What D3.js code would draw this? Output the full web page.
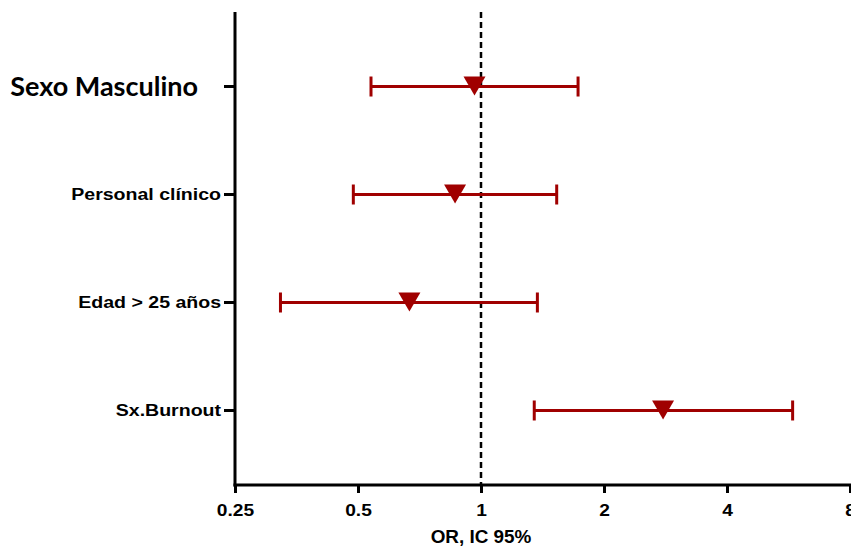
<!DOCTYPE html>
<html>
<head>
<meta charset="utf-8">
<script src="https://cdn.jsdelivr.net/npm/d3@7"></script>
<style>
	body { margin: 0; background: #fff; }
	.lbl { font-family: "Liberation Sans", Arial, sans-serif; font-weight: bold; }
</style>
</head>
<body>
<div id="chart"></div>
<script>
var factors = ["Sexo Masculino", "Personal clínico", "Edad > 25 años", "Sx.Burnout"],
	orValues = [0.964, 0.864, 0.668, 2.79],
	ciLow = [0.538, 0.487, 0.323, 1.35],
	ciHigh = [1.728, 1.532, 1.374, 5.79],
	xTicks = [0.25, 0.5, 1, 2, 4, 8];

var w = 851, h = 548,
	plotL = 235, plotR = 850,
	plotT = 12, plotB = 485,
	red = "#a00000";

var svg = d3.select("#chart").append("svg")
	.attr("width", w)
	.attr("height", h);

var x = d3.scaleLog().base(2).domain([0.25, 8]).range([plotL, plotR]);
var y = d3.scalePoint().domain(factors).range([plotT, plotB]).padding(0.69);

// reference line at OR = 1
svg.append("line")
	.attr("x1", x(1)).attr("x2", x(1))
	.attr("y1", plotT).attr("y2", plotB)
	.attr("stroke", "#000")
	.attr("stroke-width", 2.5)
	.attr("stroke-dasharray", "6,4");

var rows = svg.selectAll(".row")
	.data(factors.map(function(d, i) {
		return {name: d, or: orValues[i], lo: ciLow[i], hi: ciHigh[i]};
	}))
	.enter().append("g")
	.attr("class", "row")
	.attr("transform", function(d) { return "translate(0," + y(d.name) + ")"; });

rows.append("line")
	.attr("x1", function(d) { return x(d.lo); })
	.attr("x2", function(d) { return x(d.hi); })
	.attr("stroke", red)
	.attr("stroke-width", 3);

rows.selectAll(".cap")
	.data(function(d) { return [d.lo, d.hi]; })
	.enter().append("line")
	.attr("class", "cap")
	.attr("x1", function(d) { return x(d); })
	.attr("x2", function(d) { return x(d); })
	.attr("y1", -10).attr("y2", 10)
	.attr("stroke", red)
	.attr("stroke-width", 3);

rows.append("path")
	.attr("d", "M-11,-10L11,-10L0,9Z")
	.attr("transform", function(d) { return "translate(" + x(d.or) + ",0)"; })
	.attr("fill", red);

// y axis
svg.append("line")
	.attr("x1", plotL).attr("x2", plotL)
	.attr("y1", plotT).attr("y2", plotB + 1.5)
	.attr("stroke", "#000").attr("stroke-width", 3);

svg.selectAll(".ytick")
	.data(factors)
	.enter().append("line")
	.attr("class", "ytick")
	.attr("x1", plotL - 11).attr("x2", plotL)
	.attr("y1", function(d) { return y(d); })
	.attr("y2", function(d) { return y(d); })
	.attr("stroke", "#000").attr("stroke-width", 3);

// labels in the reference look a bit stretched horizontally
svg.selectAll(".ylabel")
	.data(factors)
	.enter().append("text")
	.attr("class", "ylabel")
	.attr("transform", function(d, i) {
		return i == 0 ? "translate(198," + y(d) + ")"
			: "translate(221," + y(d) + ") scale(1.15,1)";
	})
	.attr("dy", "0.35em")
	.attr("text-anchor", "end")
	.style("font-family", function(d, i) { return i == 0 ? "Lato, 'Open Sans', sans-serif" : "'Liberation Sans', Arial, sans-serif"; })
	.style("font-weight", "bold")
	.style("font-size", function(d, i) { return i == 0 ? "27px" : "17px"; })
	.text(function(d) { return d; });

// x axis
var xAxis = svg.append("g")
	.attr("transform", "translate(0," + plotB + ")")
	.call(d3.axisBottom(x).tickValues(xTicks).tickFormat(function(d) { return d; }).tickSize(8).tickSizeOuter(0));

xAxis.select(".domain").attr("stroke-width", 3).attr("d", "M" + (plotL - 1.5) + ",0H" + (plotR + 2));
xAxis.selectAll(".tick line").attr("stroke-width", 3);
xAxis.selectAll(".tick text")
	.attr("class", "lbl")
	.attr("y", 0)
	.attr("dy", 0)
	.attr("transform", "translate(0,31) scale(1.13,1)")
	.style("font-size", "17px")
	.attr("fill", "#000");

svg.append("text")
	.attr("class", "lbl")
	.attr("transform", "translate(" + x(1) + ",543) scale(1.05,1)")
	.attr("text-anchor", "middle")
	.style("font-size", "18px")
	.text("OR, IC 95%");
</script>
</body>
</html>
